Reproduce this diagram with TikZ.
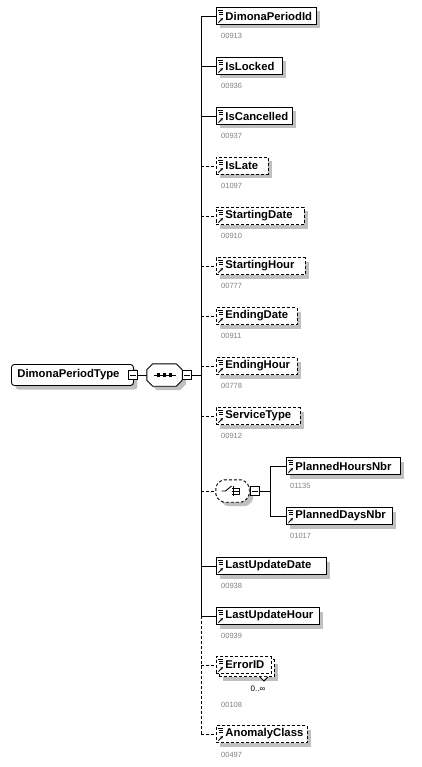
\documentclass[tikz,border=0pt]{standalone}
\usepackage{fontspec}
\setmainfont{Liberation Sans}
\usetikzlibrary{shadows,arrows.meta}
\definecolor{numgray}{RGB}{128,128,128}
\definecolor{shgray}{RGB}{192,192,192}
\tikzset{
  lw/.style={line width=0.9pt},
  opt/.style={dash pattern=on 3pt off 2pt},
  shad/.style={drop shadow={shadow xshift=4pt, shadow yshift=-4pt, fill=shgray, opacity=1}},
  elbase/.style={draw, fill=white, anchor=west, minimum height=17pt, inner xsep=1pt, inner ysep=0pt,
    align=left, font=\bfseries\fontsize{11.3}{13}\selectfont, lw,
    path picture={
      \draw[solid, line width=0.7pt]
        ([shift={(2,2.5)}]path picture bounding box.north west) -- ++(5,0)
        ([shift={(3,4.5)}]path picture bounding box.north west) -- ++(4,0)
        ([shift={(3,6.5)}]path picture bounding box.north west) -- ++(4,0);
      \draw[solid, line width=0.9pt, -{Stealth[length=3pt,width=3pt]}]
        ([shift={(2,-2)}]path picture bounding box.south west) -- ++(4.5,-4.5);
    }},
  el/.style={elbase, shad},
  num/.style={anchor=west, inner sep=0pt, font=\fontsize{7.5}{9}\selectfont, text=numgray},
  minusbox/.style={draw, fill=white, minimum size=9pt, inner sep=0pt, lw,
    path picture={\draw[line width=0.9pt] ([xshift=1.5pt]path picture bounding box.west) -- ([xshift=-1.5pt]path picture bounding box.east);}},
  compbox/.style={minimum width=35pt, minimum height=22pt, inner sep=0pt},
}
\begin{document}
\begin{tikzpicture}[x=1pt,y=-1pt]
\useasboundingbox (0,0) rectangle (421,767);

% root
\node[draw, fill=white, rounded corners=3pt, minimum width=122pt, minimum height=21pt, anchor=west,
  inner sep=0pt, font=\bfseries\fontsize{11.3}{13}\selectfont, lw, shad] (root) at (11,375)
  {\mbox{DimonaPeriodType}\hspace*{8pt}};
\node[minusbox] (rm) at (133,375) {};

% sequence compositor
\node[compbox] (seq) at (164.5,375) {};
\draw[lw, fill=white, shad]
  ([xshift=6pt]seq.north west) -- ([xshift=-6pt]seq.north east) -- ([yshift=-6pt]seq.north east)
  -- ([yshift=6pt]seq.south east) -- ([xshift=-6pt]seq.south east) -- ([xshift=6pt]seq.south west)
  -- ([yshift=6pt]seq.south west) -- ([yshift=-6pt]seq.north west) -- cycle;
\draw[lw] ([xshift=-11pt]seq.center) -- ([xshift=11pt]seq.center);
\foreach \dx in {-6,0,6} \fill ([xshift=\dx pt]seq.center) +(-1.8,-1.8) rectangle +(1.8,1.8);
\node[minusbox] (sm) at (187,375) {};
\draw[lw] (rm.east) -- (seq.west);
\coordinate (bus) at (201,375);
\draw[lw] (sm.east) -- (bus);

% elements
\node[el, text width=98pt] (n1) at (216,16) {\hspace*{8pt}\mbox{DimonaPeriodId}};
\node[num] at (221,36) {00913};
\node[el, text width=64pt] (n2) at (216,66) {\hspace*{8pt}\mbox{IsLocked}};
\node[num] at (221,86) {00936};
\node[el, text width=74pt] (n3) at (216,116) {\hspace*{8pt}\mbox{IsCancelled}};
\node[num] at (221,136) {00937};
\node[el, opt, text width=50pt] (n4) at (216,166) {\hspace*{8pt}\mbox{IsLate}};
\node[num] at (221,186) {01097};
\node[el, opt, text width=86pt] (n5) at (216,216) {\hspace*{8pt}\mbox{StartingDate}};
\node[num] at (221,236) {00910};
\node[el, opt, text width=87pt] (n6) at (216,266) {\hspace*{8pt}\mbox{StartingHour}};
\node[num] at (221,286) {00777};
\node[el, opt, text width=79pt] (n7) at (216,316) {\hspace*{8pt}\mbox{EndingDate}};
\node[num] at (221,336) {00911};
\node[el, opt, text width=79pt] (n8) at (216,366) {\hspace*{8pt}\mbox{EndingHour}};
\node[num] at (221,386) {00778};
\node[el, opt, text width=82pt] (n9) at (216,416) {\hspace*{8pt}\mbox{ServiceType}};
\node[num] at (221,436) {00912};

% choice
\node[compbox, minimum width=33pt] (ch) at (232.5,491) {};
\draw[lw, opt, fill=white, shad, rounded corners=2pt]
  ([xshift=6pt]ch.north west) -- ([xshift=-6pt]ch.north east) -- ([yshift=-6pt]ch.north east)
  -- ([yshift=6pt]ch.south east) -- ([xshift=-6pt]ch.south east) -- ([xshift=6pt]ch.south west)
  -- ([yshift=6pt]ch.south west) -- ([yshift=-6pt]ch.north west) -- cycle;
\draw[lw] ([xshift=-11pt]ch.center) -- ([xshift=-7pt]ch.center) -- ([shift={(-1,-5)}]ch.center);
\draw[lw] ([xshift=1pt]ch.center) +(0,-5) -- +(0,5);
\foreach \dy in {-3,0,3} {
  \fill ([shift={(-1,\dy)}]ch.center) rectangle +(2,1.4);
  \draw[line width=0.7pt] ([shift={(1,\dy+0.7)}]ch.center) -- +(6,0);
}
\draw[line width=0.7pt] ([shift={(7,-3)}]ch.center) -- ([shift={(7,3.7)}]ch.center);
\node[minusbox] (cm) at (254.5,491) {};
\coordinate (cbus) at (270,491);
\draw[lw] (cm.east) -- (cbus);
\node[el, text width=112pt] (p1) at (286,466) {\hspace*{8pt}\mbox{PlannedHoursNbr}};
\node[num] at (290,486) {01135};
\node[el, text width=104pt] (p2) at (286,516) {\hspace*{8pt}\mbox{PlannedDaysNbr}};
\node[num] at (290,536) {01017};
\draw[lw] (cbus |- p1.west) -- (cbus |- p2.west);
\draw[lw] (cbus |- p1.west) -- (p1.west);
\draw[lw] (cbus |- p2.west) -- (p2.west);

\node[el, text width=108pt] (n10) at (216,566) {\hspace*{8pt}\mbox{LastUpdateDate}};
\node[num] at (221,586) {00938};
\node[el, text width=101pt] (n11) at (216,616) {\hspace*{8pt}\mbox{LastUpdateHour}};
\node[num] at (221,636) {00939};

% ErrorID (multiple)
\node[draw, fill=white, opt, lw, shad, anchor=west, minimum width=55pt, minimum height=17pt, inner sep=0pt] (n12b) at (219,668) {};
\draw[lw, fill=white] ([xshift=-15pt]n12b.south east) -- ([shift={(-11,4)}]n12b.south east) -- ([xshift=-7pt]n12b.south east);
\node[elbase, opt, text width=53pt] (n12) at (216,665) {\hspace*{8pt}\mbox{ErrorID}};
\node[anchor=center, inner sep=0pt, font=\fontsize{8}{9}\selectfont] (m12) at (258,689) {0..∞};
\node[num] at (221,705) {00108};

\node[el, opt, text width=89pt] (n13) at (216,734) {\hspace*{8pt}\mbox{AnomalyClass}};
\node[num] at (221,755) {00497};

% bus lines
\draw[lw] (bus |- n1.west) -- (bus |- n11.west);
\draw[lw, opt] (bus |- n11.west) -- (bus |- n13.west);
\foreach \n in {n1,n2,n3,n10,n11} \draw[lw] (bus |- \n.west) -- (\n.west);
\foreach \n in {n4,n5,n6,n7,n8,n9,n12,n13} \draw[lw, opt] (bus |- \n.west) -- (\n.west);
\draw[lw, opt] (bus |- ch.west) -- (ch.west);
\end{tikzpicture}
\end{document}
